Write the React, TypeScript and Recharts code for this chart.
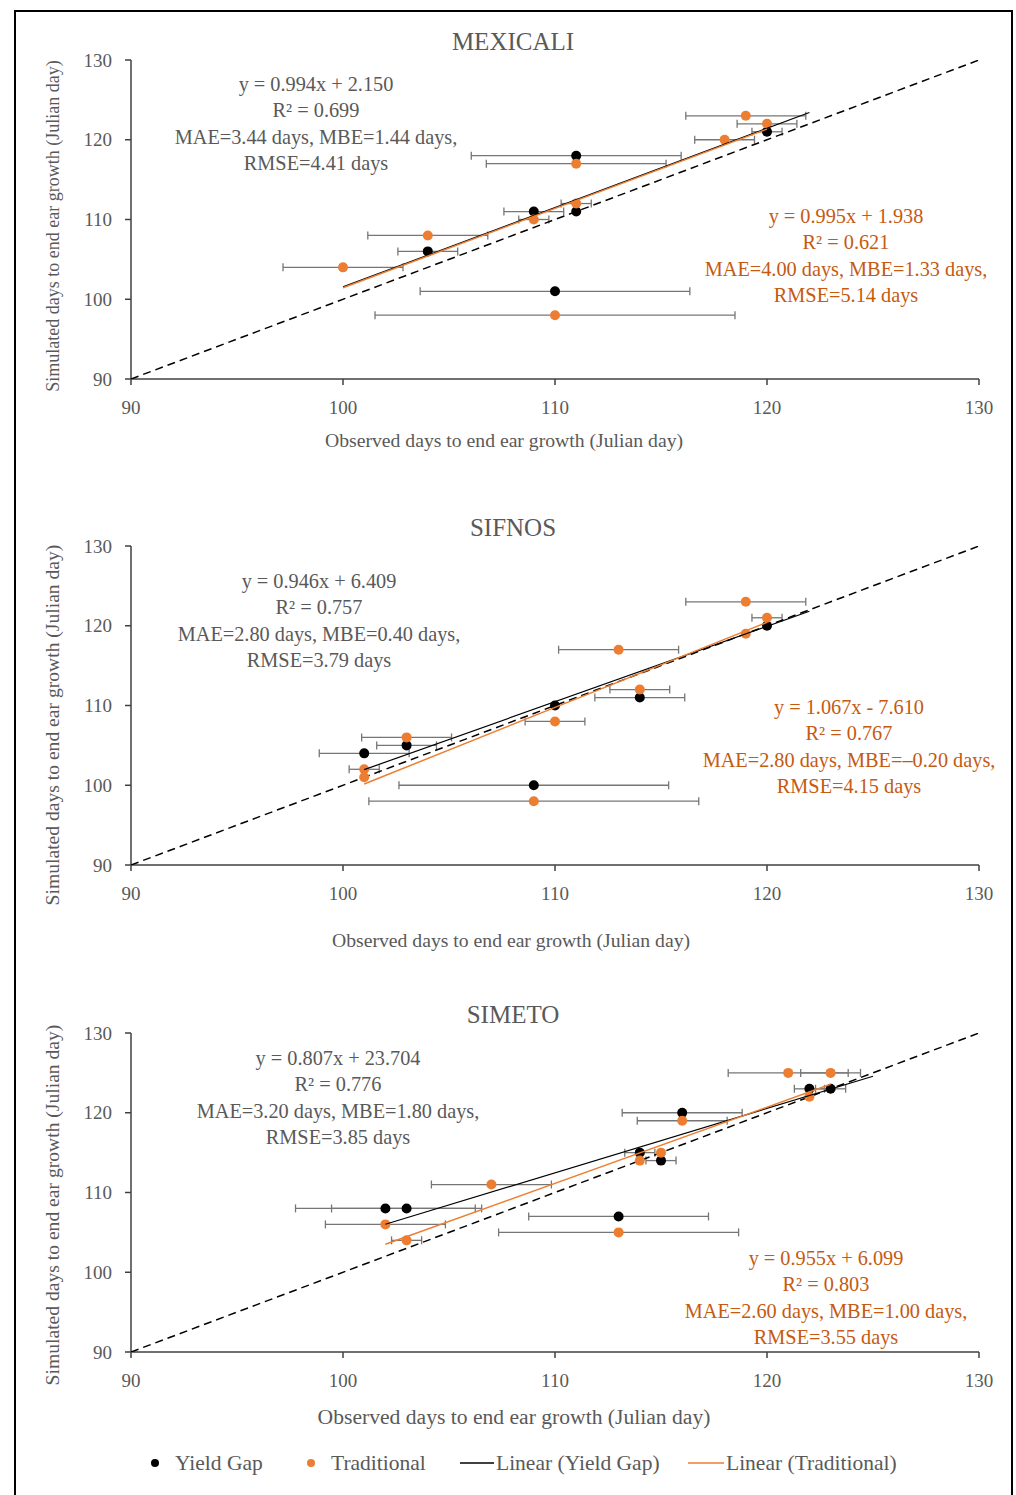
import React from "react";
import { ScatterChart, Scatter, XAxis, YAxis, ErrorBar } from "recharts";

const AXIS_TICKS = [90, 100, 110, 120, 130];
const ONE_TO_ONE = [90, 130];

// rows are [observed day, simulated day, sd of observed]
const mexicaliYieldGap = [
  [120, 121, 0.71], [111, 118, 4.95], [111, 111, 0], [109, 111, 1.41], [104, 106, 1.41], [110, 101, 6.36],
];
const mexicaliTraditional = [
  [119, 123, 2.83], [120, 122, 1.41], [118, 120, 1.41], [111, 117, 4.24], [111, 112, 0.71],
  [109, 110, 0.71], [104, 108, 2.83], [100, 104, 2.83], [110, 98, 8.49],
];
const sifnosYieldGap = [
  [120, 120, 0], [114, 111, 2.12], [110, 110, 0], [103, 105, 1.41], [101, 104, 2.12], [109, 100, 6.36],
];
const sifnosTraditional = [
  [119, 123, 2.83], [120, 121, 0.71], [119, 119, 0], [113, 117, 2.83], [114, 112, 1.41],
  [110, 108, 1.41], [103, 106, 2.12], [101, 102, 0.71], [101, 101, 0], [109, 98, 7.78],
];
const simetoYieldGap = [
  [122, 123, 0.71], [123, 123, 0.71], [116, 120, 2.83], [114, 115, 0.71], [115, 114, 0.71],
  [102, 108, 4.24], [103, 108, 3.54], [113, 107, 4.24],
];
const simetoTraditional = [
  [121, 125, 2.83], [123, 125, 1.41], [122, 122, 0], [116, 119, 2.12], [115, 115, 0], [114, 114, 0],
  [107, 111, 2.83], [102, 106, 2.83], [113, 105, 5.66], [103, 104, 0.71],
];

// [slope, intercept, first x, last x]
const mexicaliYieldGapFit = [0.994, 2.15, 100, 122];
const mexicaliTraditionalFit = [0.995, 1.938, 100, 120];
const sifnosYieldGapFit = [0.946, 6.409, 101, 122];
const sifnosTraditionalFit = [1.067, -7.61, 101, 120];
const simetoYieldGapFit = [0.807, 23.704, 102, 125];
const simetoTraditionalFit = [0.955, 6.099, 102, 123];

const mexicaliYieldGapStats = ["y = 0.994x + 2.150", "R² = 0.699", "MAE=3.44 days, MBE=1.44 days,", "RMSE=4.41 days"];
const mexicaliTraditionalStats = ["y = 0.995x + 1.938", "R² = 0.621", "MAE=4.00 days, MBE=1.33 days,", "RMSE=5.14 days"];
const sifnosYieldGapStats = ["y = 0.946x + 6.409", "R² = 0.757", "MAE=2.80 days, MBE=0.40 days,", "RMSE=3.79 days"];
const sifnosTraditionalStats = ["y = 1.067x - 7.610", "R² = 0.767", "MAE=2.80 days, MBE=–0.20 days,", "RMSE=4.15 days"];
const simetoYieldGapStats = ["y = 0.807x + 23.704", "R² = 0.776", "MAE=3.20 days, MBE=1.80 days,", "RMSE=3.85 days"];
const simetoTraditionalStats = ["y = 0.955x + 6.099", "R² = 0.803", "MAE=2.60 days, MBE=1.00 days,", "RMSE=3.55 days"];

const FONT = '"Liberation Serif", "Times New Roman", serif';
const GREY = "#595959";
const AXIS = "#404040";
const ORANGE = "#ED7D31";
const ORANGE_TEXT = "#C55A11";
const X_TITLE = "Observed days to end ear growth (Julian day)";
const Y_TITLE = "Simulated days to end ear growth (Julian day)";

const toPoints = (rows: number[][]) => rows.map(([x, y, ex]) => ({ x, y, ex }));
const fitLine = ([a, b, x0, x1]: number[]) => [
  { x: x0, y: a * x0 + b },
  { x: x1, y: a * x1 + b },
];
const dot = (color: string) => (p: any) => <circle cx={p.cx} cy={p.cy} r={5} fill={color} />;
const nothing = () => <g />;

function Stats({ lines, cx, cy, color }: { lines: string[]; cx: number; cy: number; color: string }) {
  return (
    <div
      style={{
        position: "absolute", left: cx - 250, top: cy - 13, width: 500, textAlign: "center",
        fontFamily: FONT, fontSize: 20.3, lineHeight: "26.3px", color, whiteSpace: "nowrap",
      }}
    >
      {lines.map((l) => (
        <div key={l}>{l}</div>
      ))}
    </div>
  );
}

interface PanelProps {
  plotTop: number;
  title: string;
  yg: number[][];
  trad: number[][];
  ygFit: number[];
  tradFit: number[];
  ygStats: string[];
  tradStats: string[];
  ygStatsPos: [number, number];
  tradStatsPos: [number, number];
  xTitlePos: [number, number];
  xTitleSize: number;
  yTitleCy: number;
  yTitleSize: number;
}

function Panel(p: PanelProps) {
  const plotH = 319;
  const top = p.plotTop - 20;
  const diag = ONE_TO_ONE.map((v) => ({ x: v, y: v }));
  return (
    <>
      <div
        style={{
          position: "absolute", left: 263, top: p.plotTop - 33, width: 500, textAlign: "center",
          fontFamily: FONT, fontSize: 25, color: GREY, lineHeight: "30px",
        }}
      >
        {p.title}
      </div>
      <div style={{ position: "absolute", left: 0, top }}>
        <ScatterChart width={1016} height={20 + plotH + 40} margin={{ top: 20, right: 37, left: 71, bottom: 0 }}>
          <XAxis
            type="number" dataKey="x" domain={[90, 130]} ticks={AXIS_TICKS} allowDataOverflow height={40}
            tickSize={6} tickMargin={16} axisLine={{ stroke: AXIS, strokeWidth: 1.5 }} tickLine={{ stroke: AXIS, strokeWidth: 1.5 }}
            tick={{ fill: GREY, fontSize: 19, fontFamily: FONT }}
          />
          <YAxis
            type="number" dataKey="y" domain={[90, 130]} ticks={AXIS_TICKS} allowDataOverflow width={60}
            tickSize={6} tickMargin={13} axisLine={{ stroke: AXIS, strokeWidth: 1.5 }} tickLine={{ stroke: AXIS, strokeWidth: 1.5 }}
            tick={{ fill: GREY, fontSize: 19, fontFamily: FONT }}
          />
          <Scatter data={diag} shape={nothing} line={{ stroke: "#000", strokeWidth: 1.5, strokeDasharray: "8 5" }} isAnimationActive={false} />
          <Scatter data={toPoints(p.yg)} shape={dot("#000")} isAnimationActive={false}>
            <ErrorBar dataKey="ex" direction="x" width={4} stroke="#767676" strokeWidth={1.3} isAnimationActive={false} />
          </Scatter>
          <Scatter data={toPoints(p.trad)} shape={dot(ORANGE)} isAnimationActive={false}>
            <ErrorBar dataKey="ex" direction="x" width={4} stroke="#767676" strokeWidth={1.3} isAnimationActive={false} />
          </Scatter>
          <Scatter data={fitLine(p.ygFit)} shape={nothing} line={{ stroke: "#000", strokeWidth: 1.2 }} isAnimationActive={false} />
          <Scatter data={fitLine(p.tradFit)} shape={nothing} line={{ stroke: ORANGE, strokeWidth: 1.5 }} isAnimationActive={false} />
        </ScatterChart>
      </div>
      <Stats lines={p.ygStats} cx={p.ygStatsPos[0]} cy={p.ygStatsPos[1]} color={GREY} />
      <Stats lines={p.tradStats} cx={p.tradStatsPos[0]} cy={p.tradStatsPos[1]} color={ORANGE_TEXT} />
      <div
        style={{
          position: "absolute", left: p.xTitlePos[0] - 250, top: p.xTitlePos[1] - 13, width: 500, textAlign: "center",
          fontFamily: FONT, fontSize: p.xTitleSize, color: GREY, lineHeight: "26px", whiteSpace: "nowrap",
        }}
      >
        {X_TITLE}
      </div>
      <div
        style={{
          position: "absolute", left: 53 - 220, top: p.yTitleCy - 12, width: 440, height: 24,
          textAlign: "center", transform: "rotate(-90deg)", fontFamily: FONT, fontSize: p.yTitleSize,
          color: GREY, lineHeight: "24px", whiteSpace: "nowrap",
        }}
      >
        {Y_TITLE}
      </div>
    </>
  );
}

function Legend() {
  const text = { position: "absolute" as const, top: 1450, fontFamily: FONT, fontSize: 21.5, color: GREY, lineHeight: "26px", whiteSpace: "nowrap" as const };
  return (
    <>
      <svg style={{ position: "absolute", left: 0, top: 1450 }} width={1016} height={26}>
        <circle cx={155} cy={13} r={4} fill="#000" />
        <circle cx={311} cy={13} r={4} fill={ORANGE} />
        <line x1={460} x2={494} y1={13} y2={13} stroke="#000" strokeWidth={1.3} />
        <line x1={688} x2={724} y1={13} y2={13} stroke={ORANGE} strokeWidth={1.5} />
      </svg>
      <div style={{ ...text, left: 175 }}>Yield Gap</div>
      <div style={{ ...text, left: 331 }}>Traditional</div>
      <div style={{ ...text, left: 496 }}>Linear (Yield Gap)</div>
      <div style={{ ...text, left: 726 }}>Linear (Traditional)</div>
    </>
  );
}

export default function App() {
  return (
    <div style={{ position: "absolute", left: 0, top: 0, width: 1016, height: 1495, overflow: "hidden", background: "#fff" }}>
      <div style={{ position: "absolute", left: 14, top: 10, width: 999, height: 1500, border: "2px solid #000", boxSizing: "border-box" }} />
      <Panel
        plotTop={60} title="MEXICALI" yg={mexicaliYieldGap} trad={mexicaliTraditional}
        ygFit={mexicaliYieldGapFit} tradFit={mexicaliTraditionalFit}
        ygStats={mexicaliYieldGapStats} tradStats={mexicaliTraditionalStats}
        ygStatsPos={[316, 84]} tradStatsPos={[846, 216]}
        xTitlePos={[504, 440]} xTitleSize={19.7} yTitleCy={226} yTitleSize={18}
      />
      <Panel
        plotTop={546} title="SIFNOS" yg={sifnosYieldGap} trad={sifnosTraditional}
        ygFit={sifnosYieldGapFit} tradFit={sifnosTraditionalFit}
        ygStats={sifnosYieldGapStats} tradStats={sifnosTraditionalStats}
        ygStatsPos={[319, 581]} tradStatsPos={[849, 707]}
        xTitlePos={[511, 940]} xTitleSize={19.7} yTitleCy={725} yTitleSize={19.6}
      />
      <Panel
        plotTop={1033} title="SIMETO" yg={simetoYieldGap} trad={simetoTraditional}
        ygFit={simetoYieldGapFit} tradFit={simetoTraditionalFit}
        ygStats={simetoYieldGapStats} tradStats={simetoTraditionalStats}
        ygStatsPos={[338, 1058]} tradStatsPos={[826, 1258]}
        xTitlePos={[514, 1417]} xTitleSize={21.6} yTitleCy={1205} yTitleSize={19.6}
      />
      <Legend />
    </div>
  );
}
